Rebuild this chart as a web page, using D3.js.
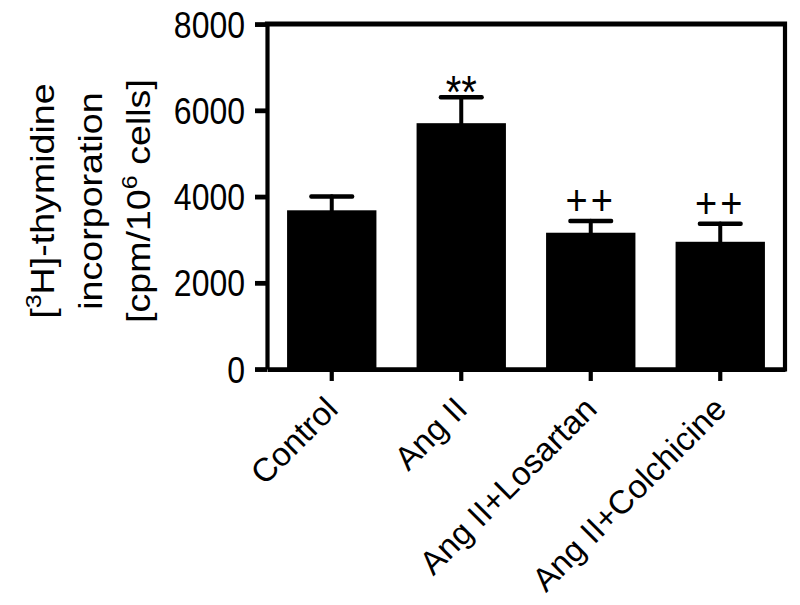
<!DOCTYPE html>
<html>
<head>
<meta charset="utf-8">
<script src="https://cdn.jsdelivr.net/npm/d3@7"></script>
<style>
  html, body { margin: 0; padding: 0; background: #fff; }
  svg { display: block; font-family: 'Liberation Sans', Arial, sans-serif; }
</style>
</head>
<body>
<svg id="chart"></svg>
<script>
const groups = ['Control', 'Ang II', 'Ang II+Losartan', 'Ang II+Colchicine']
const means = [3680, 5700, 3160, 2950]
const sems = [320, 600, 270, 420]
const marks = ['', '**', '++', '++']
const yTicks = [0, 2000, 4000, 6000, 8000]

const width = 800
const height = 605
// the picture is a bit taller than it is wide, so draw flat and stretch
const S = 1.14
const box = { left: 267, right: 785, top: 24 / S, bottom: 369 / S }

const svg = d3.select('#chart').attr('width', width).attr('height', height)
const g = svg.append('g').attr('transform', `scale(1,${S})`)

const data = groups.map((name, i) => ({ name, mean: means[i], sem: sems[i], mark: marks[i] }))

const x = d3.scaleBand()
  .domain(groups)
  .range([box.left, box.right])
  .paddingInner(0.31)
  .paddingOuter(0.155)

const y = d3.scaleLinear()
  .domain([0, 8000])
  .range([box.bottom, box.top])

const cx = d => x(d.name) + x.bandwidth() / 2

// bars
g.selectAll('rect.bar')
  .data(data)
  .enter().append('rect')
  .attr('class', 'bar')
  .attr('x', d => x(d.name))
  .attr('y', d => y(d.mean))
  .attr('width', x.bandwidth())
  .attr('height', d => y(0) - y(d.mean))
  .attr('fill', '#000')

// error bars (upper half only)
const eb = g.append('g')
  .attr('stroke', '#000')
  .attr('stroke-width', 4)
  .attr('stroke-linecap', 'round')
eb.selectAll('line.v')
  .data(data)
  .enter().append('line')
  .attr('x1', cx)
  .attr('x2', cx)
  .attr('y1', d => y(d.mean))
  .attr('y2', d => y(d.mean + d.sem))
const capHalf = x.bandwidth() * 0.23
eb.selectAll('line.cap')
  .data(data)
  .enter().append('line')
  .attr('x1', d => cx(d) - capHalf)
  .attr('x2', d => cx(d) + capHalf)
  .attr('y1', d => y(d.mean + d.sem))
  .attr('y2', d => y(d.mean + d.sem))

// significance marks
g.selectAll('text.mark')
  .data(data.filter(d => d.mark))
  .enter().append('text')
  .attr('class', 'mark')
  .attr('x', cx)
  .attr('y', d => y(d.mean + d.sem))
  .attr('dy', d => d.mark === '**' ? 9 : -5)
  .attr('text-anchor', 'middle')
  .attr('font-size', d => d.mark === '**' ? 40 : 38)
  .attr('letter-spacing', d => d.mark === '**' ? 0 : 3)
  .text(d => d.mark)

// frame top and right
g.append('path')
  .attr('d', `M${box.left},${box.top}H${box.right}V${box.bottom}`)
  .attr('fill', 'none')
  .attr('stroke', '#000')
  .attr('stroke-width', 4.2)
  .attr('stroke-linecap', 'square')

// Y axis
const yAxis = g.append('g')
  .attr('transform', `translate(${box.left},0)`)
  .call(d3.axisLeft(y).tickValues(yTicks).tickFormat(d3.format('d'))
    .tickSize(12).tickSizeOuter(0).tickPadding(10))
yAxis.selectAll('path, line').attr('stroke', '#000').attr('stroke-width', 4.2)
yAxis.selectAll('text')
  .attr('font-size', 32)
  .attr('font-family', 'Liberation Sans, Arial, sans-serif')
  .attr('fill', '#000')
  .attr('dy', '0.36em')

// X axis (ticks only, labels drawn unstretched below)
const xAxis = g.append('g')
  .attr('transform', `translate(0,${box.bottom})`)
  .call(d3.axisBottom(x).tickSize(10.5).tickSizeOuter(0).tickFormat(''))
xAxis.selectAll('path, line').attr('stroke', '#000').attr('stroke-width', 4.2)

svg.append('g')
  .selectAll('text')
  .data(data)
  .enter().append('text')
  .attr('font-size', 33)
  .attr('fill', '#000')
  .attr('text-anchor', 'end')
  .attr('transform', d => `translate(${cx(d) + 8},${box.bottom * S + 42}) rotate(-45)`)
  .text(d => d.name)

// Y axis title, three lines
const title = g.append('g')
  .attr('font-size', 33)
  .attr('fill', '#000')
const midY = (box.top + box.bottom) / 2 + 4

const t1 = title.append('text')
  .attr('text-anchor', 'middle')
  .attr('transform', `translate(54,${midY}) rotate(-90)`)
t1.append('tspan').text('[')
t1.append('tspan').attr('font-size', 22).attr('dy', -13).text('3')
t1.append('tspan').attr('dy', 13).text('H]-thymidine')

title.append('text')
  .attr('text-anchor', 'middle')
  .attr('transform', `translate(102,${midY}) rotate(-90)`)
  .text('incorporation')

const t3 = title.append('text')
  .attr('text-anchor', 'middle')
  .attr('transform', `translate(150,${midY}) rotate(-90)`)
t3.append('tspan').text('[cpm/10')
t3.append('tspan').attr('font-size', 22).attr('dy', -13).text('6')
t3.append('tspan').attr('dy', 13).text(' cells]')
</script>
</body>
</html>
